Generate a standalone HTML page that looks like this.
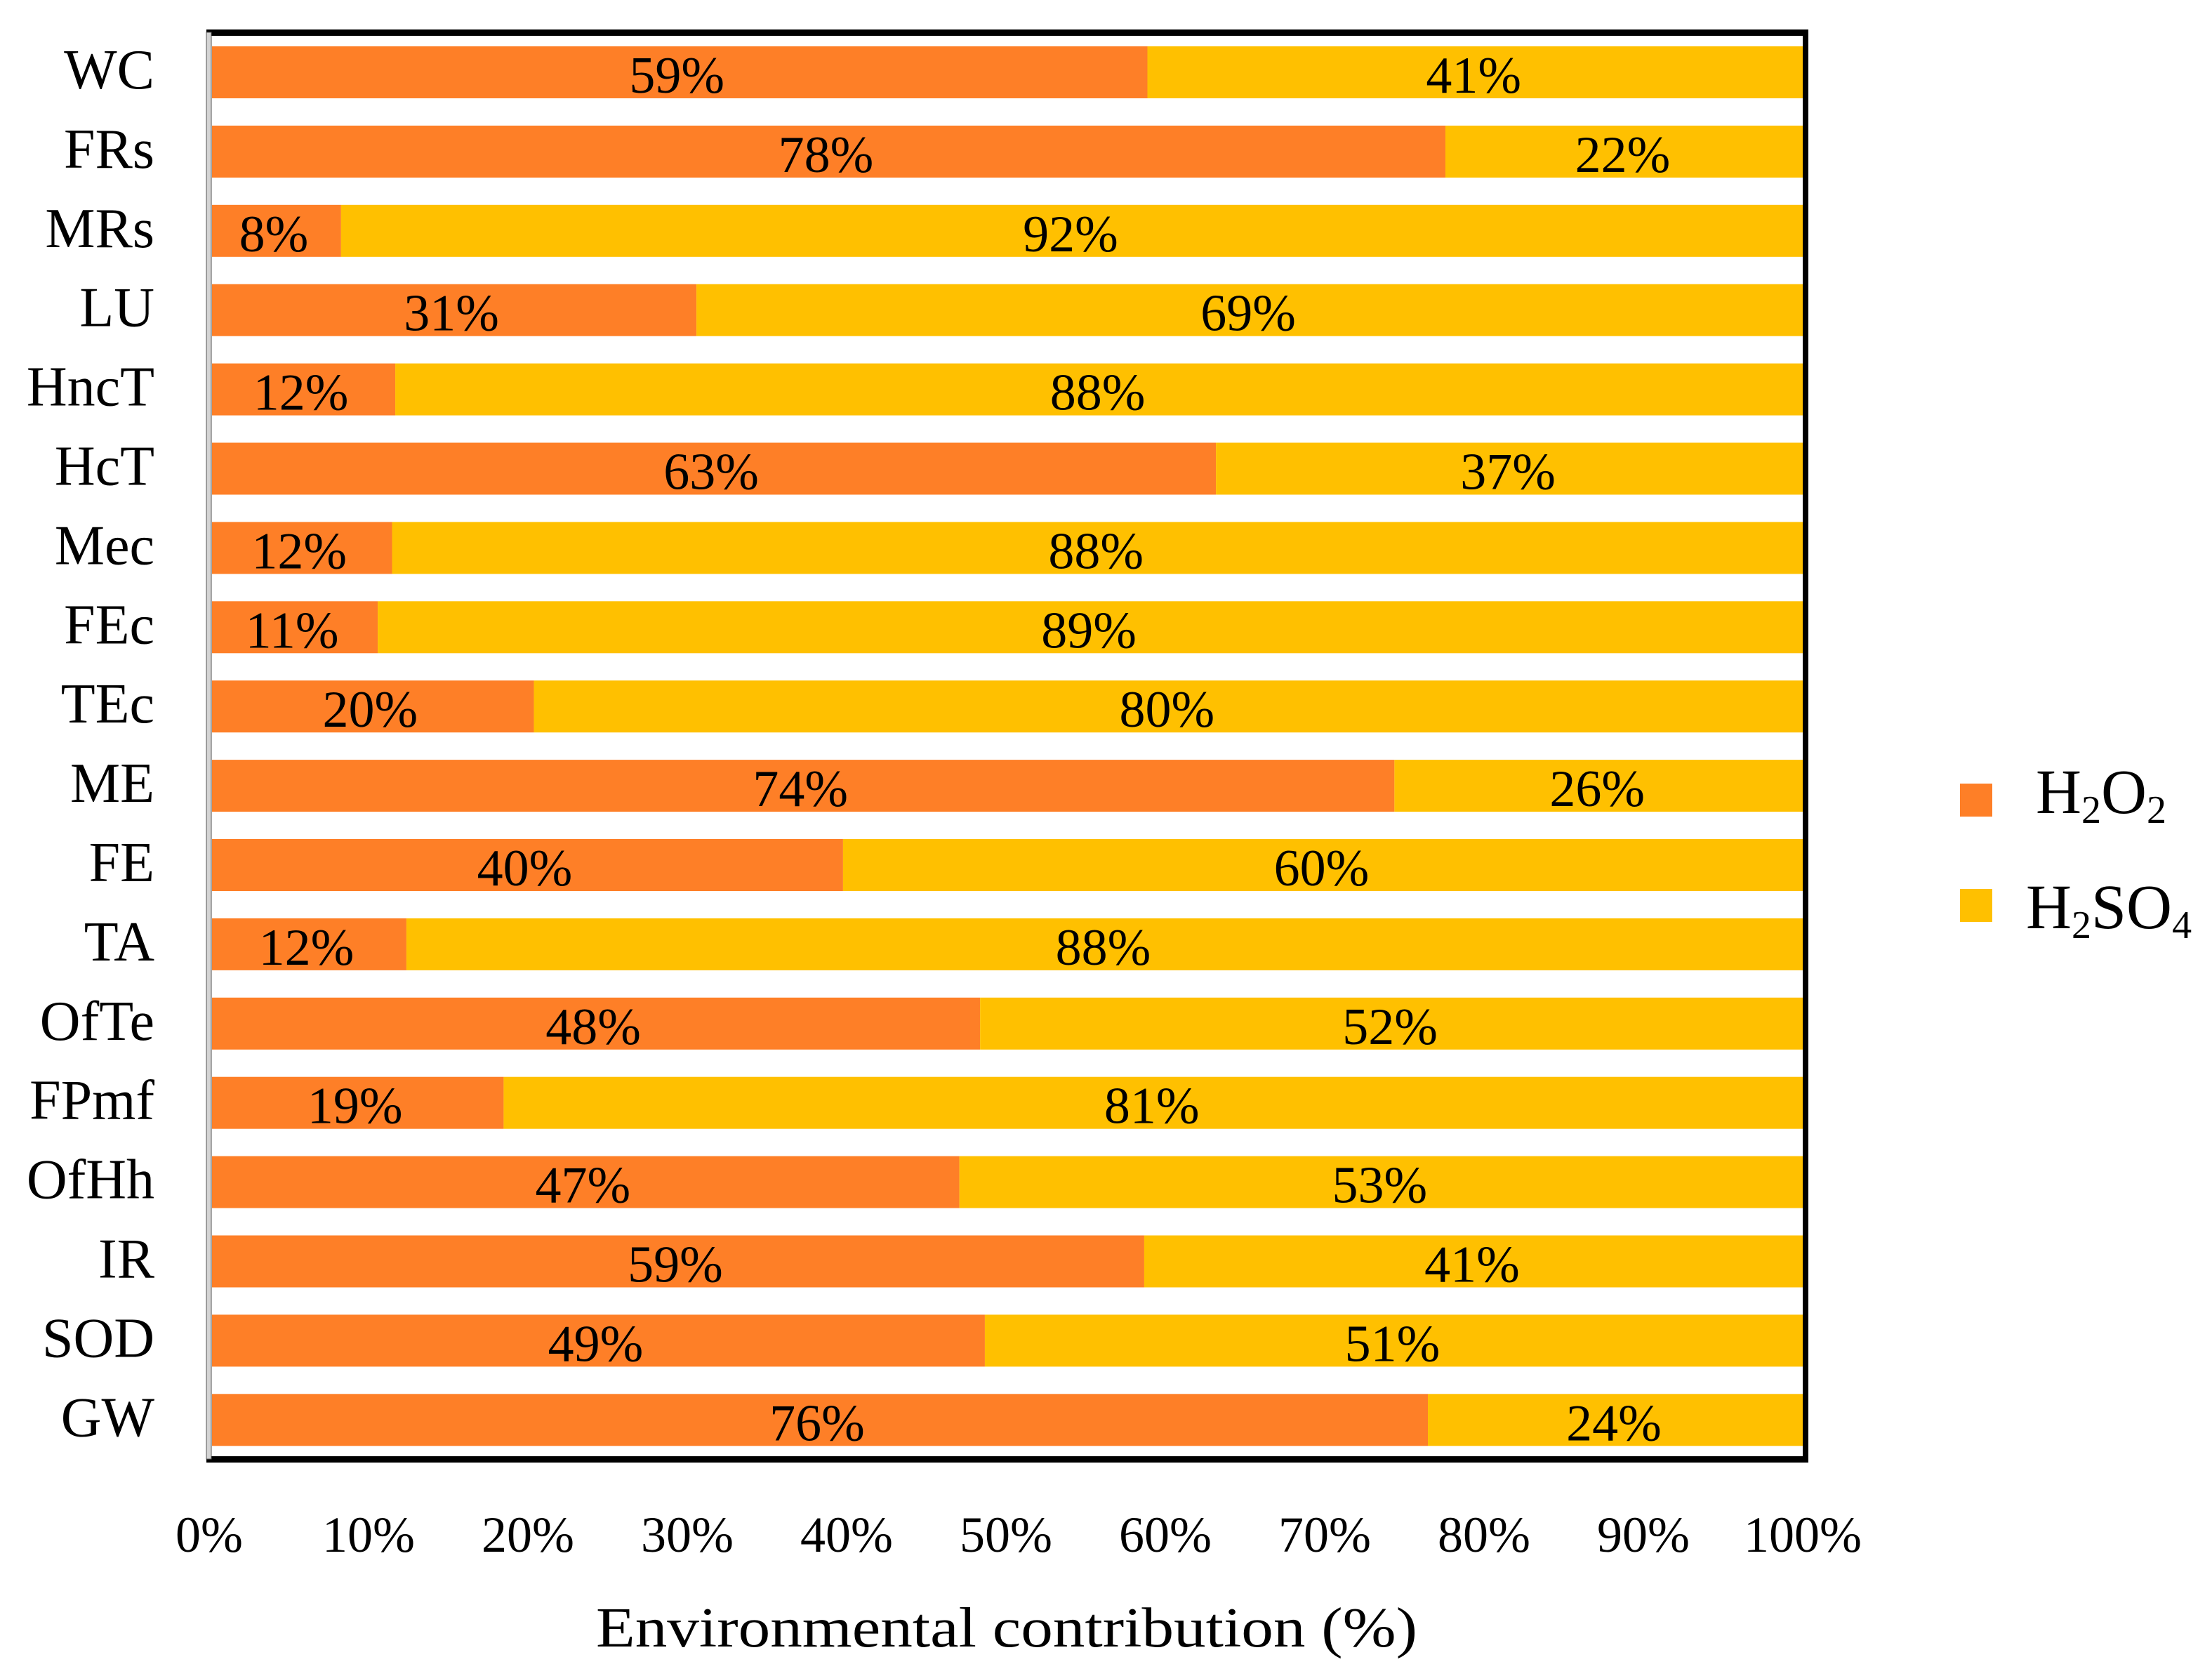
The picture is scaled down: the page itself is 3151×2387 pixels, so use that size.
<!DOCTYPE html>
<html><head><meta charset="utf-8"><style>
html,body{margin:0;padding:0;background:#fff;}
svg{display:block;font-family:"Liberation Serif",serif;}
</style></head><body>
<svg id="chart" width="3151" height="2387" viewBox="0 0 3151 2387" xmlns="http://www.w3.org/2000/svg">
<g id="bars"></g>
<rect x="294" y="42" width="2282" height="9" fill="#000"/>
<rect x="2568" y="42" width="8" height="2041" fill="#000"/>
<rect x="294" y="2074" width="2282" height="9" fill="#000"/>
<rect x="294" y="46" width="7" height="2032" fill="#d4d4d4" stroke="#555" stroke-width="1"/>
<g id="ylabels"></g>
<g id="xticks"></g>
<text x="1434" y="2345" font-size="80" text-anchor="middle" textLength="1170" lengthAdjust="spacingAndGlyphs">Environmental contribution (%)</text>
<g>
<g>
<rect x="2792" y="1116" width="46" height="47" fill="#FE7F27"/>
<text x="2900" y="1158" font-size="90">H<tspan font-size="56" dy="14">2</tspan><tspan dy="-14">O</tspan><tspan font-size="56" dy="14">2</tspan></text>
</g>
<g>
<rect x="2792" y="1266" width="46" height="47" fill="#FFC000"/>
<text x="2886" y="1322" font-size="90">H<tspan font-size="56" dy="14">2</tspan><tspan dy="-14">SO</tspan><tspan font-size="56" dy="14">4</tspan></text>
</g>
</g>
</svg>
<script>
const categories = ["WC","FRs","MRs","LU","HncT","HcT","Mec","FEc","TEc","ME","FE","TA","OfTe","FPmf","OfHh","IR","SOD","GW"];
const h2o2Values = [58.7,77.4,8.1,30.4,11.5,63.0,11.3,10.4,20.2,74.2,39.6,12.2,48.2,18.3,46.9,58.5,48.5,76.3];
const h2so4Values = [41.3,22.6,91.9,69.6,88.5,37.0,88.7,89.6,79.8,25.8,60.4,87.8,51.8,81.7,53.1,41.5,51.5,23.7];
const h2o2Labels = ["59%","78%","8%","31%","12%","63%","12%","11%","20%","74%","40%","12%","48%","19%","47%","59%","49%","76%"];
const h2so4Labels = ["41%","22%","92%","69%","88%","37%","88%","89%","80%","26%","60%","88%","52%","81%","53%","41%","51%","24%"];
const xTickLabels = ["0%","10%","20%","30%","40%","50%","60%","70%","80%","90%","100%"];
const xTickValues = [0,10,20,30,40,50,60,70,80,90,100];

const NS = "http://www.w3.org/2000/svg";
const X0 = 302, X1 = 2572, Y0 = 66, PITCH = 112.9, BH = 74;
function xScale(v){ return X0 + (v/100)*(X1-X0); }
function yScale(i){ return Y0 + i*PITCH; }
function mk(tag, attrs){ const e = document.createElementNS(NS, tag); for (const k in attrs) e.setAttribute(k, attrs[k]); return e; }

const bars = document.getElementById('bars');
const ylabels = document.getElementById('ylabels');
categories.forEach((c, i) => {
  const y = yScale(i);
  const a = h2o2Values[i], b = h2so4Values[i];
  const r1 = mk('rect', {x: xScale(0), y: y, width: xScale(a)-xScale(0), height: BH, fill: '#FE7F27'});
  
  
  bars.appendChild(r1);
  const r2 = mk('rect', {x: xScale(a), y: y, width: xScale(a+b)-xScale(a), height: BH, fill: '#FFC000'});
  
  
  bars.appendChild(r2);
  const t1 = mk('text', {x: (xScale(0)+xScale(a))/2 - 4, y: y+66, 'font-size': 74, 'text-anchor': 'middle'});
  t1.textContent = h2o2Labels[i];
  
  
  bars.appendChild(t1);
  const t2 = mk('text', {x: (xScale(a)+xScale(a+b))/2 - 4, y: y+66, 'font-size': 74, 'text-anchor': 'middle'});
  t2.textContent = h2so4Labels[i];
  
  
  bars.appendChild(t2);
  const l = mk('text', {x: 220, y: y+60, 'font-size': 80, 'text-anchor': 'end'});
  l.textContent = c;
  
  
  ylabels.appendChild(l);
});
const xticks = document.getElementById('xticks');
xTickValues.forEach((v, i) => {
  const t = mk('text', {x: xScale(v) - 4, y: 2210, 'font-size': 72, 'text-anchor': 'middle'});
  t.textContent = xTickLabels[i];
  
  
  xticks.appendChild(t);
});
</script>
</body></html>
